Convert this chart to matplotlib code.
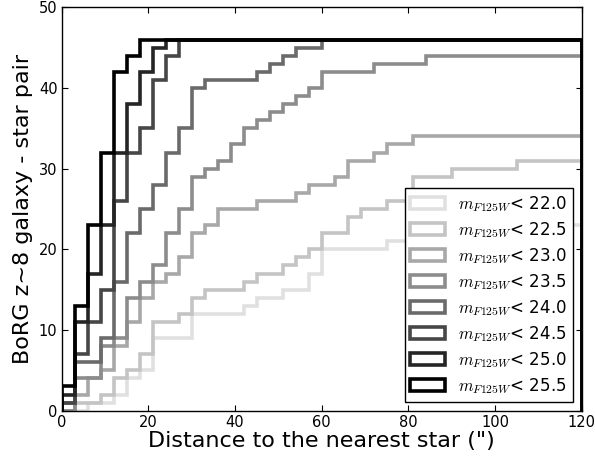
import matplotlib
matplotlib.use("Agg")
import matplotlib.pyplot as plt
from matplotlib.patches import Patch
import numpy as np

plt.rcParams['mathtext.fontset'] = 'cm'
plt.rcParams['font.family'] = ['DejaVu Sans']

# bin edges (arcsec)
edges = list(range(0, 123, 3))

mag_limits = ["22.0", "22.5", "23.0", "23.5", "24.0", "24.5", "25.0", "25.5"]
grays = ["#e0e0e0", "#c4c4c4", "#a8a8a8", "#8c8c8c", "#6a6a6a", "#474747", "#252525", "#000000"]

# cumulative number of galaxy-star pairs per bin (40 bins of 3")
cum_220 = [0, 0, 1, 1, 2, 4, 5, 9, 9, 9, 12, 12, 12, 12, 13, 14, 14, 15, 15, 17,
           20, 20, 20, 20, 20, 21, 21, 21, 22, 22, 22, 22, 23, 23, 23, 23, 23, 23, 23, 23]
cum_225 = [0, 1, 1, 2, 4, 5, 7, 11, 11, 12, 14, 15, 15, 15, 16, 17, 17, 18, 19, 20,
           22, 22, 24, 25, 25, 26, 26, 29, 29, 29, 30, 30, 30, 30, 30, 31, 31, 31, 31, 31]
cum_230 = [0, 2, 4, 5, 8, 11, 14, 16, 17, 19, 22, 23, 25, 25, 25, 26, 26, 26, 27, 28,
           28, 29, 31, 31, 32, 33, 33, 34, 34, 34, 34, 34, 34, 34, 34, 34, 34, 34, 34, 34]
cum_235 = [0, 4, 4, 8, 9, 14, 16, 18, 22, 25, 29, 30, 31, 33, 35, 36, 37, 38, 39, 40,
           42, 42, 42, 42, 43, 43, 43, 43, 44, 44, 44, 44, 44, 44, 44, 44, 44, 44, 44, 44]
cum_240 = [1, 6, 6, 9, 16, 22, 25, 28, 32, 35, 40, 41, 41, 41, 41, 42, 43, 44, 45, 45,
           46, 46, 46, 46, 46, 46, 46, 46, 46, 46, 46, 46, 46, 46, 46, 46, 46, 46, 46, 46]
cum_245 = [1, 7, 11, 15, 26, 32, 35, 41, 44, 46, 46, 46, 46, 46, 46, 46, 46, 46, 46, 46,
           46, 46, 46, 46, 46, 46, 46, 46, 46, 46, 46, 46, 46, 46, 46, 46, 46, 46, 46, 46]
cum_250 = [2, 11, 17, 23, 32, 38, 42, 45, 46, 46, 46, 46, 46, 46, 46, 46, 46, 46, 46, 46,
           46, 46, 46, 46, 46, 46, 46, 46, 46, 46, 46, 46, 46, 46, 46, 46, 46, 46, 46, 46]
cum_255 = [3, 13, 23, 32, 42, 44, 46, 46, 46, 46, 46, 46, 46, 46, 46, 46, 46, 46, 46, 46,
           46, 46, 46, 46, 46, 46, 46, 46, 46, 46, 46, 46, 46, 46, 46, 46, 46, 46, 46, 46]

series = [cum_220, cum_225, cum_230, cum_235, cum_240, cum_245, cum_250, cum_255]

fig = plt.figure(figsize=(5.95, 4.58), dpi=100)
ax = fig.add_axes([0.1037, 0.1033, 0.874, 0.8807])

handles = []
for vals, col, lab in zip(series, grays, mag_limits):
    ax.stairs(vals, edges, baseline=0, color=col, lw=2.6, fill=False)
    handles.append(Patch(facecolor='none', edgecolor=col, lw=2.6,
                         label=r"$m_{F125W}$< " + lab))

ax.set_xlim(0, 120)
ax.set_ylim(0, 50)
ax.set_xticks([0, 20, 40, 60, 80, 100, 120])
ax.set_yticks([0, 10, 20, 30, 40, 50])
ax.tick_params(direction='in', top=True, right=True, labelsize=10.5, length=4, pad=3)
for s in ax.spines.values():
    s.set_linewidth(1.0)

ax.set_xlabel('Distance to the nearest star (")', fontsize=16, labelpad=1)
ax.set_ylabel('BoRG z~8 galaxy - star pair', fontsize=16, labelpad=4)

leg = ax.legend(handles=handles, loc='lower right', fontsize=12, fancybox=False,
                framealpha=1, edgecolor='black', handlelength=2.1, handleheight=0.8,
                labelspacing=0.37, borderaxespad=0.55, handletextpad=0.75,
                borderpad=0.35)
leg.get_frame().set_linewidth(1.0)

fig.savefig("out.png", dpi=100)
